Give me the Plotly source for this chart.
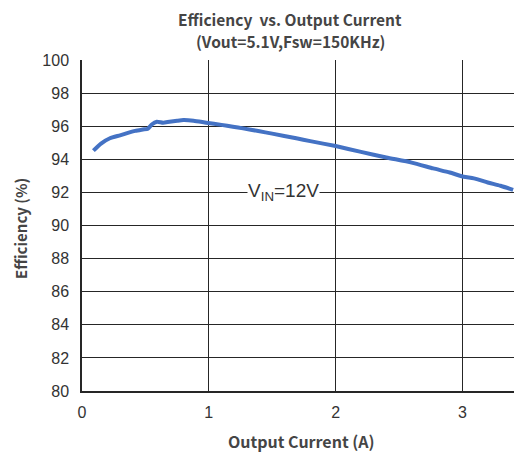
import plotly.graph_objects as go

current_a = [0.09, 0.15, 0.22, 0.30, 0.35, 0.42, 0.48, 0.52, 0.55, 0.59, 0.64, 0.69, 0.75, 0.80, 0.88, 0.98,
             1.10, 1.19, 1.27, 1.39, 1.50, 1.69, 1.80, 2.00, 2.20, 2.40, 2.60, 2.77, 2.90, 3.01, 3.09, 3.20, 3.30, 3.40]
efficiency = [94.52, 94.95, 95.27, 95.45, 95.57, 95.72, 95.80, 95.85, 96.10, 96.27, 96.21, 96.27, 96.33, 96.37, 96.33, 96.21,
              96.08, 95.97, 95.87, 95.71, 95.55, 95.27, 95.10, 94.80, 94.45, 94.11, 93.80, 93.45, 93.20, 92.95, 92.85, 92.60, 92.40, 92.15]

x_ticks = [0, 1, 2, 3]
y_ticks = [80, 82, 84, 86, 88, 90, 92, 94, 96, 98, 100]

fig = go.Figure()
fig.add_trace(go.Scatter(x=current_a, y=efficiency, mode="lines",
                         line=dict(color="#4472C4", width=4, shape="spline", smoothing=0.6),
                         showlegend=False, hoverinfo="skip"))

grid_col = "#262626"
tick_font = dict(family="Liberation Sans, Arial, sans-serif", size=16, color="#333333")
head_font = dict(family="Noto Sans CJK SC, Noto Sans, sans-serif", size=15.5, color="#454545", weight=600)
title_font = dict(family="Noto Sans CJK SC, Noto Sans, sans-serif", size=16, color="#454545", weight=600)
ytitle_font = dict(family="Noto Sans CJK SC, Noto Sans, sans-serif", size=15, color="#454545", weight=600)

# page body has an 8px margin, so the figure is drawn offset by (8, 8)
W, H = 514, 447
L, T, B = 74, 52, 64
PW = W - L

fig.update_layout(
    width=W, height=H,
    margin=dict(l=L, r=0, t=T, b=B),
    paper_bgcolor="white", plot_bgcolor="white",
    xaxis=dict(range=[0, 3.47], tickvals=x_ticks, showgrid=True, gridcolor=grid_col, gridwidth=1.3,
               showline=True, linecolor=grid_col, linewidth=1.5, zeroline=False,
               ticks="", tickfont=tick_font, ticklabelstandoff=6),
    yaxis=dict(range=[80, 100], tickvals=y_ticks, showgrid=True, gridcolor=grid_col, gridwidth=1.3,
               showline=True, linecolor=grid_col, linewidth=1.5, zeroline=False,
               ticks="", tickfont=tick_font, ticklabelstandoff=8),
    annotations=[
        dict(text="Efficiency  vs. Output Current", xref="paper", yref="paper",
             x=(290 - 82) / PW, y=1.0, yshift=41, xanchor="center", yanchor="middle", showarrow=False,
             font=head_font),
        dict(text="(Vout=5.1V,Fsw=150KHz)", xref="paper", yref="paper",
             x=(290 - 82) / PW, y=1.0, yshift=19, xanchor="center", yanchor="middle", showarrow=False,
             font=head_font),
        dict(text="Output Current (A)", xref="paper", yref="paper", x=(301 - 82) / PW, y=0, yshift=-36,
             xanchor="center", yanchor="top", showarrow=False, font=title_font),
        dict(text="Efficiency (%)", xref="paper", yref="paper", x=(20 - 82) / PW, y=(391 - 229) / 331,
             textangle=-90, xanchor="center", yanchor="middle", showarrow=False, font=ytitle_font),
        dict(text="V<sub>IN</sub>=12V", x=1.59, y=92, xref="x", yref="y", showarrow=False,
             bgcolor="white", borderpad=0,
             font=dict(family="Liberation Sans, Arial, sans-serif", size=19, color="#333333")),
    ],
)

fig.write_html("out.html")
